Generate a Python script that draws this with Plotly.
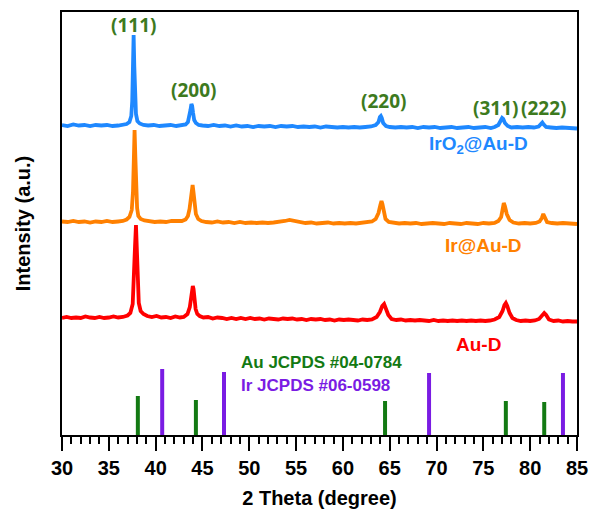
import plotly.graph_objects as go

# ---------------- data ----------------
# IrO2@Au-D pattern (relative intensity above its own baseline)
tt_iro2 = [30.0, 30.6, 31.2, 31.8, 32.4, 33.0, 33.6, 34.2, 34.8, 35.4, 36.0, 36.5, 36.9, 37.2, 37.4, 37.5,
           37.58, 37.65, 37.72, 37.8, 37.9, 38.05, 38.3, 38.7, 39.2, 39.8, 40.4, 41.0, 41.6, 42.2, 42.8,
           43.2, 43.45, 43.6, 43.72, 43.82, 43.9, 44.0, 44.12, 44.3, 44.6, 45.0, 45.6, 46.2, 46.8, 47.4,
           48.0, 48.6, 49.2, 49.8, 50.4, 51.0, 51.6, 52.2, 52.8, 53.4, 54.0, 54.6, 55.2, 55.8, 56.4, 57.0,
           57.6, 58.2, 58.8, 59.4, 60.0, 60.6, 61.2, 61.8, 62.4, 63.0, 63.5, 63.8, 63.95, 64.05, 64.15,
           64.3, 64.6, 65.0, 65.6, 66.2, 66.8, 67.4, 68.0, 68.6, 69.2, 69.8, 70.4, 71.0, 71.6, 72.2, 72.8,
           73.4, 74.0, 74.6, 75.2, 75.8, 76.2, 76.6, 76.85, 77.0, 77.12, 77.3, 77.6, 78.0, 78.6, 79.2,
           79.8, 80.4, 80.9, 81.15, 81.3, 81.45, 81.7, 82.2, 82.8, 83.4, 84.0, 84.5, 85.0]
int_iro2 = [1, 0, 1.5, 0.5, 1, 0, 1, 0.5, 1, 0, 0.5, 1, 2, 4, 10, 25,
            55, 91, 60, 28, 12, 5, 2.5, 1, 0.5, 1, 0, 0.5, 1, 0, 0.5,
            1.5, 4, 9, 16, 22, 20, 13, 6, 3, 1, 0.5, 0, 1, 0, 0.5,
            -0.5, 0.5, -0.5, 0, -1, 0, -0.5, 0, -1, 0, -0.5, 0, -1, -0.5, -1, -0.5,
            -1.5, -0.5, -1, -1.5, -1, -1.5, -1, -1.5, -1, -0.5, 1, 4, 9, 10, 8,
            3, 0, -1, -1.5, -1, -1.5, -1, -2, -1, -1.5, -1, -2, -1.5, -1, -2, -1.5,
            -1, -2, -1.5, -1, -2, -1, 1, 5, 8, 7, 3, 0, -1.5, -1, -1.5,
            -1, -1.5, -0.5, 1.5, 3.5, 1.5, -1, -1.5, -2, -1.5, -2, -2, -2.5]

# Ir@Au-D pattern
tt_ir = [30.0, 30.6, 31.2, 31.8, 32.4, 33.0, 33.6, 34.2, 34.8, 35.4, 36.0, 36.5, 36.9, 37.2, 37.45, 37.58,
         37.67, 37.75, 37.83, 37.92, 38.02, 38.15, 38.4, 38.8, 39.3, 39.9, 40.5, 41.1, 41.7, 42.3, 42.8,
         43.2, 43.45, 43.62, 43.75, 43.87, 43.95, 44.04, 44.15, 44.3, 44.55, 44.9, 45.4, 46.0, 46.6, 47.2,
         47.8, 48.4, 49.0, 49.6, 50.2, 50.8, 51.4, 52.0, 52.6, 53.2, 53.8, 54.3, 54.8, 55.4, 56.0, 56.6,
         57.2, 57.8, 58.4, 59.0, 59.6, 60.2, 60.8, 61.4, 62.0, 62.6, 63.1, 63.5, 63.8, 64.0, 64.12,
         64.22, 64.35, 64.55, 64.9, 65.4, 66.0, 66.6, 67.2, 67.8, 68.4, 69.0, 69.6, 70.2, 70.8, 71.4, 72.0,
         72.6, 73.2, 73.8, 74.4, 75.0, 75.6, 76.2, 76.6, 76.9, 77.05, 77.18, 77.3, 77.5, 77.8, 78.2, 78.8,
         79.4, 80.0, 80.6, 81.0, 81.25, 81.4, 81.55, 81.8, 82.3, 82.9, 83.5, 84.1, 84.6, 85.0]
int_ir = [0.5, 0, 1, 0, 0.5, -0.5, 0.5, 0, 1, 0, 0.5, 1, 2.5, 5, 12, 30,
          62, 92, 66, 32, 14, 6, 3, 1.5, 1, 0, 0.5, 0, 1, 0.5, 1,
          2.5, 6, 13, 24, 34, 37, 30, 17, 8, 3, 1, 0, -0.5, 0.5, -0.5,
          0, -1, 0, -1, -0.5, -1, -0.5, -1, -0.5, 0, 1, 2, 1, -0.5, -1, -0.5,
          -1.5, -1, -0.5, -1.5, -1, -1.5, -1, -1.5, -1, -0.5, 0.5, 3, 9, 17, 21,
          18, 10, 3, 0, -1, -1.5, -1, -1.5, -1, -2, -1.5, -1, -1.5, -2, -1, -1.5,
          -2, -1, -1.5, -2, -1, -1.5, -1, 1, 5, 13, 19, 16, 8, 2, -0.5, -1.5,
          -1, -1.5, -1, 0.5, 4, 8, 4, 0, -1, -1.5, -1, -1.5, -1.5, -2]

# Au-D pattern
tt_au = [30.0, 30.5, 31.0, 31.5, 32.0, 32.5, 33.0, 33.5, 34.0, 34.5, 35.0, 35.5, 36.0, 36.5, 37.0, 37.3,
         37.55, 37.7, 37.8, 37.9, 37.98, 38.08, 38.2, 38.4, 38.7, 39.1, 39.6, 40.1, 40.6, 41.1, 41.6,
         42.1, 42.6, 43.0, 43.4, 43.65, 43.85, 43.97, 44.05, 44.14, 44.27, 44.45, 44.7, 45.1, 45.6,
         46.1, 46.6, 47.1, 47.6, 48.1, 48.6, 49.1, 49.6, 50.1, 50.6, 51.1, 51.6, 52.1, 52.6, 53.1,
         53.6, 54.1, 54.6, 55.1, 55.6, 56.1, 56.6, 57.1, 57.6, 58.1, 58.6, 59.1, 59.6, 60.1, 60.6,
         61.1, 61.6, 62.1, 62.6, 63.1, 63.6, 63.95, 64.2, 64.4, 64.6, 64.85, 65.2, 65.7, 66.2, 66.7,
         67.2, 67.7, 68.2, 68.7, 69.2, 69.7, 70.2, 70.7, 71.2, 71.7, 72.2, 72.7, 73.2, 73.7, 74.2,
         74.7, 75.2, 75.7, 76.2, 76.7, 77.05, 77.25, 77.4, 77.55, 77.8, 78.1, 78.5, 79.0, 79.5, 80.0,
         80.5, 80.95, 81.3, 81.5, 81.7, 82.0, 82.5, 83.0, 83.5, 84.0, 84.5, 85.0]
int_au = [0, 1, 0, 0.5, 0, 1.5, 0.5, 0, 1, 0, 0.5, 1.5, 0.5, 1, 2.5, 5,
          14, 40, 72, 93, 70, 35, 15, 7, 4, 2, 1, 2, 0.5, 1, 0,
          1.5, 0.5, 1, 4, 11, 24, 32, 29, 19, 9, 4, 2, 0.5, 1,
          -0.5, 0.5, 0, -1, 0, -1, 0, -1, 0, -1, -0.5, -1.5, -0.5, -1, -1.5,
          -0.5, -1, -0.5, -1.5, -1, -2, -1, -1.5, -1, -2, -1.5, -2.5, -1.5, -2, -1.5,
          -2, -2.5, -1.5, -2, -1.5, 1, 6, 12, 14, 10, 3, -1, -2, -1.5, -2.5,
          -2, -2.5, -2, -2.5, -3, -2, -3, -2.5, -3, -2.5, -3, -2.5, -3, -2.5, -3,
          -2.5, -3, -2.5, -1.5, 1, 7, 13, 15, 12, 5, 0, -2, -3, -2.5, -3,
          -2.5, -1, 3, 5, 3, -1.5, -3, -2.5, -3.5, -3, -3.5, -3.5]

# vertical stacking offsets of the three patterns
offset_iro2 = 309
offset_ir = 213
offset_au = 117

# reference sticks (JCPDS cards)
au_ref_pos = [38.1, 44.3, 64.5, 77.4, 81.5]
au_ref_int = [39, 35, 34, 34, 33]
ir_ref_pos = [40.7, 47.3, 69.2, 83.5]
ir_ref_int = [66, 63, 62, 62]

# Miller-index labels
hkl_labels = ["(111)", "(200)", "(220)", "(311)", "(222)"]
hkl_x = [37.6, 44.0, 64.3, 76.25, 81.4]
hkl_y = [410, 345, 334, 327, 327]

x_ticks = [30, 35, 40, 45, 50, 55, 60, 65, 70, 75, 80, 85]

# ---------------- styles ----------------
BLUE = "#1E88FF"
ORANGE = "#FF8000"
RED = "#FF0000"
HKL_GREEN = "#3D7A1E"
AU_GREEN = "#137A13"
IR_PURPLE = "#7A1CE3"
FONT = "Arial, Liberation Sans, sans-serif"

fig = go.Figure()


def add_pattern(tt, inten, off, color):
    fig.add_trace(go.Scatter(x=tt, y=[v + off for v in inten], mode="lines",
                             line=dict(color=color, width=3.8), showlegend=False,
                             hoverinfo="skip"))


add_pattern(tt_au, int_au, offset_au, RED)
add_pattern(tt_ir, int_ir, offset_ir, ORANGE)
add_pattern(tt_iro2, int_iro2, offset_iro2, BLUE)


def stick_xy(pos, inten):
    xs, ys = [], []
    for p, h in zip(pos, inten):
        xs += [p, p, None]
        ys += [0, h, None]
    return xs, ys


sx, sy = stick_xy(au_ref_pos, au_ref_int)
fig.add_trace(go.Scatter(x=sx, y=sy, mode="lines", line=dict(color=AU_GREEN, width=4),
                         showlegend=False, hoverinfo="skip"))
sx, sy = stick_xy(ir_ref_pos, ir_ref_int)
fig.add_trace(go.Scatter(x=sx, y=sy, mode="lines", line=dict(color=IR_PURPLE, width=4),
                         showlegend=False, hoverinfo="skip"))

for lab, hx, hy in zip(hkl_labels, hkl_x, hkl_y):
    fig.add_annotation(x=hx, y=hy, text=f"<b>{lab}</b>", showarrow=False,
                       font=dict(family="Open Sans, sans-serif", size=19, color=HKL_GREEN))

fig.add_annotation(x=74.44, y=290, text="<b>IrO<sub>2</sub>@Au-D</b>", showarrow=False,
                   font=dict(family=FONT, size=19, color=BLUE))
fig.add_annotation(x=74.98, y=190, text="<b>Ir@Au-D</b>", showarrow=False,
                   font=dict(family=FONT, size=19, color=ORANGE))
fig.add_annotation(x=74.44, y=91, text="<b>Au-D</b>", showarrow=False,
                   font=dict(family=FONT, size=19, color=RED))
fig.add_annotation(x=48.9, y=73, text="<b>Au JCPDS #04-0784</b>", showarrow=False, xanchor="left",
                   font=dict(family=FONT, size=17, color=AU_GREEN))
fig.add_annotation(x=48.9, y=50, text="<b>Ir JCPDS #06-0598</b>", showarrow=False, xanchor="left",
                   font=dict(family=FONT, size=17, color=IR_PURPLE))

fig.update_layout(
    width=589, height=509,
    margin=dict(l=62, r=12, t=12, b=74),
    plot_bgcolor="white", paper_bgcolor="white",
    font=dict(family=FONT, color="black"),
)
fig.update_xaxes(range=[30, 85], tickvals=x_ticks, ticktext=[f"<b>{t}</b>" for t in x_ticks],
                 automargin=False,
                 ticks="outside", ticklen=14, tickwidth=2, tickcolor="black",
                 minor=dict(ticks="outside", dtick=1, ticklen=7, tickwidth=2, tickcolor="black"),
                 showline=True, linewidth=2, linecolor="black", mirror=True,
                 showgrid=False, zeroline=False,
                 tickfont=dict(family=FONT, size=20, color="black"),
                 title=dict(text="<b>2 Theta (degree)</b>", font=dict(family=FONT, size=20, color="black"),
                            standoff=13))
fig.update_yaxes(range=[0, 423], showticklabels=False, ticks="", automargin=False,
                 showline=True, linewidth=2, linecolor="black", mirror=True,
                 showgrid=False, zeroline=False,
                 title=dict(text="<b>Intensity (a.u.)</b>", font=dict(family=FONT, size=20, color="black"),
                            standoff=24))

fig.write_html("out.html")
